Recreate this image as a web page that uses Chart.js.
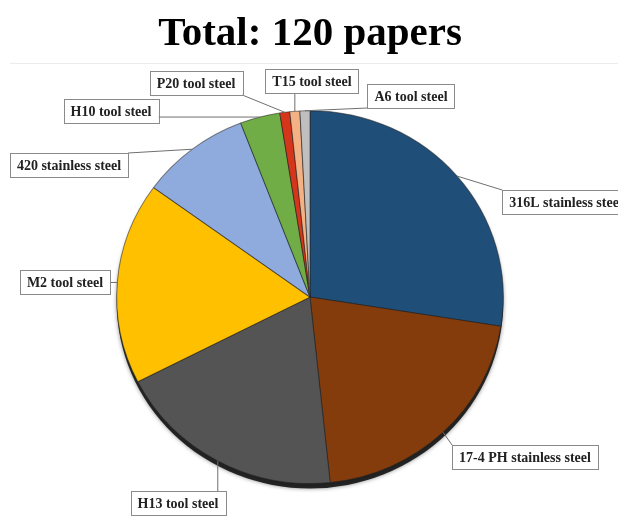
<!DOCTYPE html>
<html>
<head>
    <title>Papers by steel grade</title>
    <script src="https://cdn.jsdelivr.net/npm/chart.js"></script>
    <style>
        body { margin: 0; background: #fff; }
    </style>
</head>
<body>
    <canvas id="steelChart" width="618" height="522"></canvas>
    <script>
        const grades = ['316L stainless steel', '17-4 PH stainless steel', 'H13 tool steel', 'M2 tool steel',
            '420 stainless steel', 'H10 tool steel', 'P20 tool steel', 'T15 tool steel', 'A6 tool steel'];
        const papers = [33, 25, 23, 21, 11, 4, 1, 1, 1];
        const sliceColors = ['#1f4e79', '#843c0c', '#545454', '#ffc000', '#8faadc', '#70ad47', '#d5361b', '#f4b183', '#bfbfbf'];

        // callout box centres, one per slice
        const calloutPos = [[566, 202], [525, 457], [178, 503], [65, 282], [69, 165], [111, 111], [196, 83], [312, 81], [411, 96]];
        const stretchX = 1.037;

        const ovalPie = {
            id: 'ovalPie',
            beforeDatasetsDraw(chart) {
                const arc = chart.getDatasetMeta(0).data[0];
                const ctx = chart.ctx;
                ctx.save();
                ctx.translate(arc.x, arc.y);
                ctx.scale(stretchX, 1);
                ctx.translate(-arc.x, -arc.y);
                // drop shadow under the pie
                ctx.save();
                ctx.fillStyle = 'rgba(20,20,20,0.9)';
                ctx.shadowColor = 'rgba(0,0,0,0.5)';
                ctx.shadowBlur = 4;
                ctx.beginPath();
                ctx.arc(arc.x, arc.y + 5, arc.outerRadius, 0, Math.PI * 2);
                ctx.fill();
                ctx.restore();
            },
            afterDatasetsDraw(chart) {
                chart.ctx.restore();
            }
        };

        const callouts = {
            id: 'callouts',
            afterDraw(chart) {
                const ctx = chart.ctx;
                const arcs = chart.getDatasetMeta(0).data;
                ctx.save();
                // faint rule under the title
                ctx.strokeStyle = '#ececec';
                ctx.lineWidth = 1;
                ctx.beginPath();
                ctx.moveTo(10, 63.5);
                ctx.lineTo(618, 63.5);
                ctx.stroke();

                ctx.font = 'bold 14px "Liberation Serif"';
                ctx.textAlign = 'center';
                ctx.textBaseline = 'middle';
                arcs.forEach((arc, i) => {
                    const mid = (arc.startAngle + arc.endAngle) / 2;
                    const ex = arc.x + stretchX * arc.outerRadius * Math.cos(mid);
                    const ey = arc.y + arc.outerRadius * Math.sin(mid);
                    const [cx, cy] = calloutPos[i];
                    const w = ctx.measureText(grades[i]).width + 14;
                    const h = 24;
                    const left = cx - w / 2, top = cy - h / 2;
                    const px = Math.min(Math.max(ex, left), left + w);
                    const py = Math.min(Math.max(ey, top), top + h);
                    ctx.strokeStyle = '#6f6f6f';
                    ctx.beginPath();
                    ctx.moveTo(ex, ey);
                    ctx.lineTo(px, py);
                    ctx.stroke();
                    ctx.fillStyle = '#fff';
                    ctx.fillRect(left, top, w, h);
                    ctx.strokeStyle = '#8a8a8a';
                    ctx.strokeRect(Math.round(left) + 0.5, Math.round(top) + 0.5, Math.round(w), h);
                    ctx.fillStyle = '#222';
                    ctx.fillText(grades[i], cx, cy + 1);
                });
                ctx.restore();
            }
        };

        new Chart(document.getElementById('steelChart'), {
            type: 'pie',
            data: {
                labels: grades,
                datasets: [{
                    data: papers,
                    backgroundColor: sliceColors,
                    borderColor: 'rgba(35,35,35,0.55)',
                    borderWidth: 1
                }]
            },
            options: {
                responsive: false,
                animation: false,
                devicePixelRatio: 1,
                layout: { padding: { left: 123, right: 121, top: 0, bottom: 38 } },
                plugins: {
                    legend: { display: false },
                    tooltip: { enabled: false },
                    title: {
                        display: true,
                        text: 'Total: 120 papers',
                        color: '#000',
                        font: { family: '"Liberation Serif"', size: 41, weight: 'bold' },
                        padding: { top: 10, bottom: 51 }
                    }
                }
            },
            plugins: [ovalPie, callouts]
        });
    </script>
</body>
</html>
